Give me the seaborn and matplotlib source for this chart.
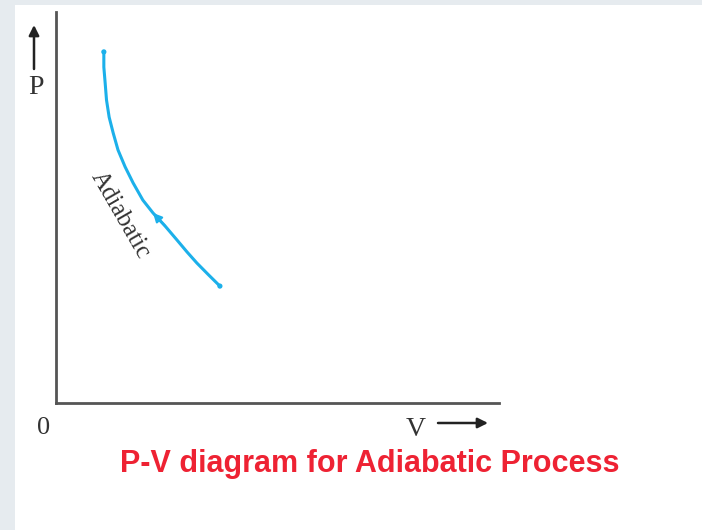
import matplotlib
matplotlib.use("Agg")
import matplotlib.pyplot as plt
import seaborn as sns
import pandas as pd
from matplotlib.patches import Rectangle

# values (arbitrary units, axes 0..10)
volume = [1.08, 1.08, 1.11, 1.14, 1.20, 1.29, 1.40, 1.56, 1.74, 1.96,
          2.19, 2.46, 2.73, 2.96, 3.18, 3.45, 3.70]
pressure = [8.98, 8.59, 8.18, 7.75, 7.31, 6.91, 6.47, 6.04, 5.63, 5.19,
            4.86, 4.53, 4.17, 3.86, 3.58, 3.27, 2.99]
curve_label = "Adiabatic"
title_text = "P-V diagram for Adiabatic Process"

W, H = 702, 530
CURVE = "#1cb0ea"
AXIS = "#555555"
RED = "#ee2233"
INK = "#333333"


def fx(px):
    return px / W


def fy(py):
    return 1 - py / H


sns.set_style("white")
plt.rcParams["font.family"] = ["Liberation Serif", "DejaVu Serif"]

fig = plt.figure(figsize=(W / 100, H / 100), dpi=100)
fig.patch.set_facecolor("#e6ebef")
fig.patches.append(Rectangle((fx(15), 0), 1 - fx(15), fy(5), transform=fig.transFigure,
                             facecolor="white", edgecolor="none", zorder=-5))

ax = fig.add_axes([fx(56), fy(403), fx(499) - fx(56), fy(12) - fy(403)])
ax.set_facecolor("none")
ax.set_zorder(2)

df = pd.DataFrame({"V": volume, "P": pressure})
sns.lineplot(data=df, x="V", y="P", sort=False, estimator=None, color=CURVE, lw=2.2,
             ax=ax, solid_capstyle="round")
# small dots at both ends of the curve
sns.scatterplot(data=df.iloc[[0, -1]], x="V", y="P", color=CURVE, s=14,
                edgecolor="none", ax=ax)

# direction arrow on the curve (points back toward the start)
i = 10
ax.annotate("", xy=(volume[i], pressure[i]),
            xytext=(volume[i + 1], pressure[i + 1]),
            arrowprops=dict(arrowstyle="-|>", color=CURVE, lw=1.5, mutation_scale=13,
                            shrinkA=0, shrinkB=0))

ax.text(1.44, 4.81, curve_label, rotation=-60, ha="center", va="center",
        fontsize=18, color=INK, rotation_mode="anchor")

ax.set_xlim(0, 10)
ax.set_ylim(0, 10)
ax.set_xticks([])
ax.set_yticks([])
ax.set_xlabel("")
ax.set_ylabel("")
for s in ["top", "right"]:
    ax.spines[s].set_visible(False)
for s in ["left", "bottom"]:
    ax.spines[s].set_color(AXIS)
    ax.spines[s].set_linewidth(2)

# axis labels with arrows
fig.text(fx(44), fy(428), "0", ha="center", va="center", fontsize=19, color=INK)
fig.text(fx(416), fy(429), "V", ha="center", va="center", fontsize=20, color=INK)
fig.text(fx(36), fy(87), "P", ha="center", va="center", fontsize=20, color=INK)
arrow_kw = dict(arrowstyle="-|>", color="#222222", lw=1.8, mutation_scale=15,
                shrinkA=0, shrinkB=0)
ax.annotate("", xy=(fx(488), fy(423)), xytext=(fx(438), fy(423)),
            xycoords="figure fraction", textcoords="figure fraction",
            arrowprops=arrow_kw, annotation_clip=False)
ax.annotate("", xy=(fx(34), fy(25)), xytext=(fx(34), fy(69)),
            xycoords="figure fraction", textcoords="figure fraction",
            arrowprops=arrow_kw, annotation_clip=False)

fig.text(fx(370), fy(464), title_text, ha="center", va="center", fontsize=22,
         fontweight="bold", color=RED,
         family=["Liberation Sans Narrow", "Liberation Sans", "DejaVu Sans"])

fig.savefig("out.png", dpi=100, facecolor=fig.get_facecolor())
